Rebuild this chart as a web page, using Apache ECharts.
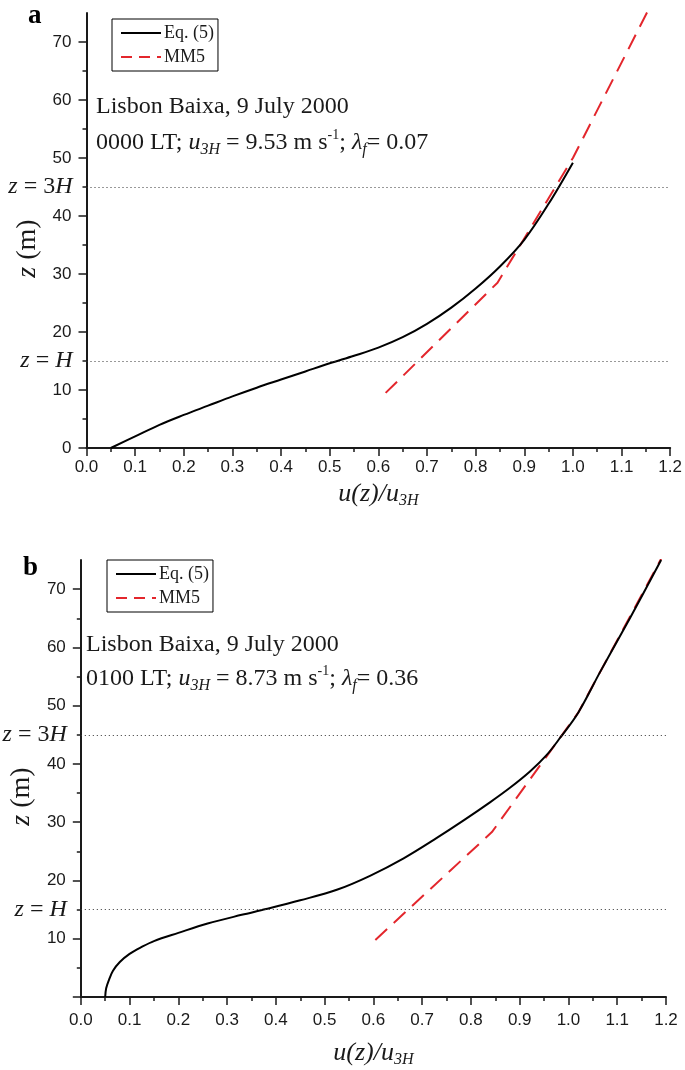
<!DOCTYPE html>
<html>
<head>
<meta charset="utf-8">
<script src="https://cdn.jsdelivr.net/npm/echarts@6/dist/echarts.min.js"></script>
<style>
  html, body { margin: 0; padding: 0; background: #fff; }
  #chart { width: 685px; height: 1070px; }
</style>
</head>
<body>
<div id="chart"></div>
<script>
// ---------- data (x = u(z)/u3H, y = z in m) ----------
const eq5A = [[0.05,0],[0.10,2.0],[0.15,4.0],[0.20,5.7],[0.25,7.3],[0.30,8.9],[0.35,10.4],[0.40,11.8],
  [0.45,13.2],[0.50,14.6],[0.55,15.9],[0.60,17.3],[0.65,19.1],[0.70,21.4],[0.75,24.2],[0.80,27.5],
  [0.85,31.3],[0.90,35.9],[0.95,42.1],[1.00,49.2]];
const mm5A = [[0.615,9.5],[0.845,28.5],[1.00,50.0],[1.158,76.0]];

const eq5B = [[0.05,0],[0.052,1.5],[0.058,3.0],[0.066,4.5],[0.08,6.0],[0.10,7.4],[0.125,8.6],[0.15,9.6],
  [0.20,11.0],[0.26,12.6],[0.33,14.1],[0.38,15.1],[0.45,16.6],[0.525,18.4],[0.593,20.8],[0.662,23.8],
  [0.73,27.3],[0.785,30.3],[0.839,33.4],[0.88,35.9],[0.921,38.7],[0.955,41.5],[0.983,44.5],
  [1.02,48.8],[1.065,55.8],[1.126,65.0],[1.19,75.0]];
const mm5B = [[0.604,9.8],[0.843,28.3],[1.02,48.8],[1.19,75.2]];

const refHeights = [15, 45];            // z = H, z = 3H
const refLabels = ['{i|z} = {i|H}', '{i|z} = 3{i|H}'];
const yTickValues = [0,10,20,30,40,50,60,70];
const yLabelValuesA = [0,10,20,30,40,50,60,70];
const yLabelValuesB = [10,20,30,40,50,60,70];
const legendNames = ['Eq. (5)', 'MM5'];
const panelTitles = ['a', 'b'];
const captionLine1 = ['Lisbon Baixa, 9 July 2000', 'Lisbon Baixa, 9 July 2000'];
const captionLine2 = [
  '0000 LT; {it|u}{sub|3H} = 9.53 m s{sup|-1}; {it|λ}{sub|f}= 0.07',
  '0100 LT; {it|u}{sub|3H} = 8.73 m s{sup|-1}; {it|λ}{sub|f}= 0.36'
];

// ---------- styles ----------
const SERIF = 'Liberation Serif';
const SANS = 'Liberation Sans';
const RED = '#e3262c';
const INK = '#1a1a1a';

const richBase = {
  it: { fontFamily: SERIF, fontStyle: 'italic', fontSize: 24, lineHeight: 30, color: INK },
  sub: { fontFamily: SERIF, fontStyle: 'italic', fontSize: 16, lineHeight: 15, verticalAlign: 'bottom', color: INK },
  sup: { fontFamily: SERIF, fontSize: 14, lineHeight: 14, verticalAlign: 'top', color: INK }
};
const refRich = { i: { fontFamily: SERIF, fontStyle: 'italic', fontSize: 24, color: INK } };

const grids = [
  { left: 86.5, top: 13, width: 585.5, height: 435 },
  { left: 80.5, top: 560, width: 585.5, height: 437 }
];
const xLabelMargin = [11, 15];
const xNameGap = [31, 41];

function xAxisFor(i) {
  return {
    type: 'value', gridIndex: i, min: 0, max: 1.2, interval: 0.1,
    axisLine: { show: true, onZero: false, lineStyle: { color: INK, width: 2 } },
    axisTick: { show: true, length: 8, lineStyle: { color: INK, width: 1.5 } },
    minorTick: { show: true, splitNumber: 2, length: 4, lineStyle: { color: INK, width: 1.5 } },
    splitLine: { show: false },
    axisLabel: { fontFamily: SANS, fontSize: 17, color: INK, margin: xLabelMargin[i],
      formatter: v => v.toFixed(1) },
    name: '{it|u(z)/u}{sub|3H}', nameLocation: 'middle', nameGap: xNameGap[i],
    nameTextStyle: { fontFamily: SERIF, fontSize: 25, color: INK,
      rich: {
        it: { fontFamily: SERIF, fontStyle: 'italic', fontSize: 26, lineHeight: 30, color: INK },
        sub: { fontFamily: SERIF, fontStyle: 'italic', fontSize: 16, lineHeight: 14, verticalAlign: 'bottom', color: INK }
      } }
  };
}
function yAxisFor(i, labelVals) {
  return {
    type: 'value', gridIndex: i, min: 0, max: 75, interval: 10,
    axisLine: { show: true, onZero: false, lineStyle: { color: INK, width: 2 } },
    axisTick: { show: true, length: 8, customValues: yTickValues, lineStyle: { color: INK, width: 1.5 } },
    minorTick: { show: true, splitNumber: 2, length: 4, lineStyle: { color: INK, width: 1.5 } },
    splitLine: { show: false },
    axisLabel: { fontFamily: SANS, fontSize: 17, color: INK, margin: 15, customValues: labelVals },
    name: '{it|z} (m)', nameLocation: 'middle', nameGap: 44,
    nameTextStyle: { fontFamily: SERIF, fontSize: 28, color: INK, padding: [0, 36, 0, 0],
      rich: { it: { fontFamily: SERIF, fontStyle: 'italic', fontSize: 28, color: INK } } }
  };
}

function seriesFor(i, eq, mm) {
  return [
    {
      name: legendNames[1], type: 'line', xAxisIndex: i, yAxisIndex: i, data: mm,
      symbol: 'none', z: 2, silent: true,
      lineStyle: { color: RED, width: 2, type: [16, 9] }, itemStyle: { color: RED },
      markLine: {
        silent: true, symbol: 'none',
        lineStyle: { color: '#333', width: 1, type: [1, 3] },
        label: { position: 'start', distance: 14, fontFamily: SERIF, fontSize: 24, color: INK, rich: refRich },
        data: refHeights.map((h, k) => ({ yAxis: h,
          label: { position: 'start', distance: 14, fontFamily: SERIF, fontSize: 24, color: INK,
                   rich: refRich, formatter: refLabels[k] } }))
      }
    },
    {
      name: legendNames[0], type: 'line', xAxisIndex: i, yAxisIndex: i, data: eq,
      symbol: 'none', smooth: 0.35, z: 3, silent: true,
      lineStyle: { color: '#000', width: 2 }, itemStyle: { color: '#000' }
    }
  ];
}

function legendFor(left, top) {
  return {
    data: [
      { name: legendNames[0], lineStyle: { color: '#000', width: 2, type: 'solid' } },
      { name: legendNames[1], lineStyle: { color: RED, width: 2, type: [11, 7] } }
    ],
    orient: 'vertical', left: left, top: top,
    borderColor: '#000', borderWidth: 1, borderRadius: 0,
    padding: [5, 4, 5, 8], itemGap: 6, itemWidth: 40, itemHeight: 18,
    selectedMode: false,
    itemStyle: { opacity: 0, borderWidth: 0 },
    textStyle: { fontFamily: SERIF, fontSize: 18, color: INK, padding: [0, 0, 0, -2] }
  };
}

function caption(x, y, text) {
  return { type: 'text', x: x, y: y, silent: true,
    style: { text: text, fontFamily: SERIF, fontSize: 24, lineHeight: 30, fill: INK, verticalAlign: 'middle', rich: richBase } };
}

const chart = echarts.init(document.getElementById('chart'), null, { renderer: 'canvas' });
chart.setOption({
  backgroundColor: '#fff',
  animation: false,
  grid: grids,
  xAxis: [xAxisFor(0), xAxisFor(1)],
  yAxis: [yAxisFor(0, yLabelValuesA), yAxisFor(1, yLabelValuesB)],
  legend: [legendFor(112, 19), legendFor(107, 560)],
  series: [...seriesFor(0, eq5A, mm5A), ...seriesFor(1, eq5B, mm5B)],
  graphic: [
    { type: 'text', x: 28, y: 3, silent: true,
      style: { text: panelTitles[0], fontFamily: SERIF, fontWeight: 'bold', fontSize: 27, fill: '#000' } },
    { type: 'text', x: 23, y: 555, silent: true,
      style: { text: panelTitles[1], fontFamily: SERIF, fontWeight: 'bold', fontSize: 27, fill: '#000' } },
    caption(96, 107, captionLine1[0]),
    caption(96, 143, captionLine2[0]),
    caption(86, 645, captionLine1[1]),
    caption(86, 679, captionLine2[1])
  ]
});
</script>
</body>
</html>
